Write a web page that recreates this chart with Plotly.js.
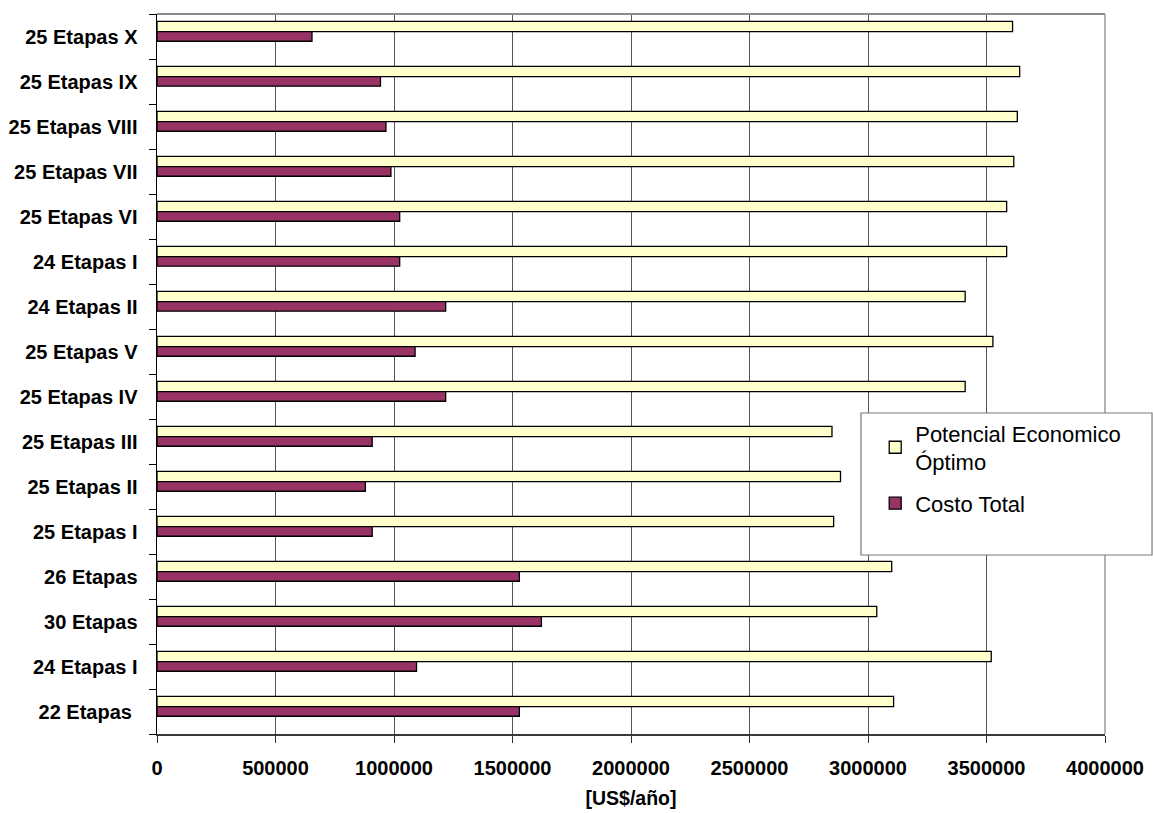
<!DOCTYPE html>
<html>
<head>
<meta charset="utf-8">
<script src="https://cdn.plot.ly/plotly-3.0.1.min.js"></script>
<style>
  html, body { margin: 0; padding: 0; background: #ffffff; }
  #chart { width: 1153px; height: 813px; }
</style>
</head>
<body>
<div id="chart"></div>
<script>
// Configurations, listed from the top of the chart to the bottom
const categories = [
  '25 Etapas X', '25 Etapas IX', '25 Etapas VIII', '25 Etapas VII',
  '25 Etapas VI', '24 Etapas I', '24 Etapas II', '25 Etapas V',
  '25 Etapas IV', '25 Etapas III', '25 Etapas II', '25 Etapas I',
  '26 Etapas', '30 Etapas', '24 Etapas I', '22 Etapas\u00a0'
];

// Optimal economic potential [US$/año]
const potencialOptimo = [
  3610000, 3640000, 3630000, 3615000,
  3585000, 3585000, 3410000, 3527000,
  3410000, 2848000, 2884000, 2855000,
  3100000, 3037000, 3520000, 3108000
];

// Total cost [US$/año]
const costoTotal = [
  654000, 943000, 966000, 987000,
  1024000, 1024000, 1218000, 1089000,
  1218000, 908000, 879000, 908000,
  1529000, 1622000, 1095000, 1529000
];

const xTickValues = [0, 500000, 1000000, 1500000, 2000000, 2500000, 3000000, 3500000, 4000000];

const seriesNames = ['Potencial Economico<br>Óptimo', 'Costo Total'];

// Category slots: numeric positions so repeated labels stay separate
const positions = categories.map((_, i) => i);
const boundaries = [];
for (let i = 0; i <= categories.length; i++) boundaries.push(i - 0.5);

const FONT = 'Liberation Sans, Arial, Helvetica, sans-serif';

const traces = [
  {
    type: 'bar',
    orientation: 'h',
    name: seriesNames[0],
    legendgroup: 'potencial',
    x: potencialOptimo,
    y: positions,
    offset: -0.335,
    width: 0.225,
    marker: { color: '#FFFFCC', line: { color: '#000000', width: 1.3 } },
    hoverinfo: 'x'
  },
  {
    type: 'bar',
    orientation: 'h',
    name: seriesNames[1],
    legendgroup: 'costo',
    x: costoTotal,
    y: positions,
    offset: -0.11,
    width: 0.215,
    marker: { color: '#993366', line: { color: '#000000', width: 1.3 } },
    hoverinfo: 'x'
  }
];

const layout = {
  width: 1153,
  height: 813,
  margin: { l: 157, r: 48, t: 14, b: 79 },
  paper_bgcolor: '#ffffff',
  plot_bgcolor: '#ffffff',
  barmode: 'overlay',
  showlegend: true,
  font: { family: FONT, color: '#000000' },
  xaxis: {
    range: [0, 4000000],
    tickvals: xTickValues,
    tickformat: 'd',
    ticks: 'outside',
    ticklen: 7,
    tickcolor: '#333333',
    ticklabelstandoff: 8,
    tickfont: { family: FONT, size: 20, weight: 'bold', color: '#000000' },
    showgrid: true,
    gridcolor: '#555555',
    gridwidth: 1,
    zeroline: false,
    showline: true,
    linecolor: '#3a3a3a',
    linewidth: 2,
    automargin: false,
    title: {
      text: '[US$/año]',
      font: { family: FONT, size: 19.5, weight: 'bold', color: '#000000' },
      standoff: 13
    }
  },
  yaxis: {
    range: [categories.length - 0.5, -0.5],
    tickvals: positions,
    ticktext: categories,
    ticks: 'outside',
    ticklen: 14,
    tickcolor: 'rgba(0,0,0,0)',
    tickfont: { family: FONT, size: 20, weight: 'bold', color: '#000000' },
    minor: {
      tickvals: boundaries,
      ticks: 'outside',
      ticklen: 7,
      tickcolor: '#000000',
      tickwidth: 1,
      showgrid: false
    },
    showgrid: false,
    zeroline: false,
    showline: true,
    linecolor: '#000000',
    linewidth: 1.5,
    automargin: false
  },
  legend: {
    x: 0.7576,
    xanchor: 'left',
    y: 0.447,
    yanchor: 'top',
    bgcolor: 'rgba(0,0,0,0)',
    borderwidth: 0,
    traceorder: 'grouped',
    font: { family: FONT, size: 22, color: '#000000' },
    tracegroupgap: 10
  },
  shapes: [
    // plot-area frame: top and right edges
    { type: 'line', xref: 'paper', yref: 'paper', x0: 0, x1: 1, y0: 1, y1: 1,
      line: { color: '#8c8c8c', width: 2 }, layer: 'above' },
    { type: 'line', xref: 'paper', yref: 'paper', x0: 1, x1: 1, y0: 0, y1: 1,
      line: { color: '#9a9a9a', width: 1.5 }, layer: 'above' },
    // legend box
    { type: 'rect', xref: 'paper', yref: 'paper',
      x0: 0.7426, x1: 1.0496, y0: 0.2486, y1: 0.4458,
      fillcolor: '#ffffff', line: { color: '#7a7a7a', width: 1.2 }, layer: 'above' }
  ]
};

Plotly.newPlot('chart', traces, layout, { displayModeBar: false, staticPlot: true });
</script>
</body>
</html>
